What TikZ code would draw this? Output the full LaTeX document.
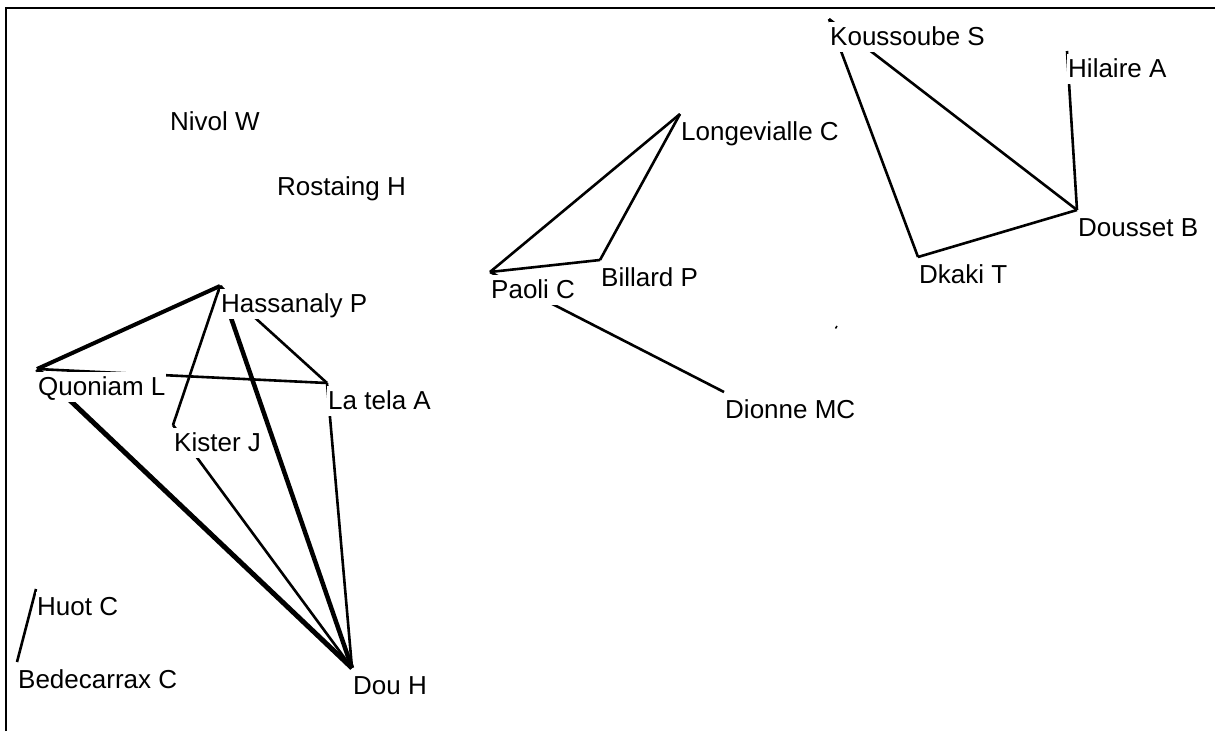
\documentclass[tikz,border=0pt]{standalone}
\usepackage{fontspec}
\setmainfont{Liberation Sans}
\begin{document}
\begin{tikzpicture}[x=1pt,y=-1pt,
  lbl/.style={anchor=north west, fill=white, inner xsep=1pt, inner ysep=0pt,
              text height=23.5pt, text depth=6pt, yshift=-3pt,
              font=\fontsize{26}{31}\selectfont},
  tie/.style={line width=2.6pt},
  strong/.style={line width=4.5pt},
  frame/.style={line width=2.6pt}]
\useasboundingbox (0,0) rectangle (1215,731);

% partial frame: left and top edges
\draw[frame] (6,731) -- (6,8) -- (1215,8);

% author positions (top-left corner of each name)
\coordinate (hass)    at (220,286);
\coordinate (quon)    at (37,369);
\coordinate (latela)  at (327,383);
\coordinate (kister)  at (173,425);
\coordinate (dou)     at (352,668);
\coordinate (huot)    at (36,589);
\coordinate (bede)    at (17,662);
\coordinate (nivol)   at (169,104);
\coordinate (rost)    at (276,169);
\coordinate (longe)   at (680,114);
\coordinate (paoli)   at (490,272);
\coordinate (billard) at (600,260);
\coordinate (dionne)  at (724,392);
\coordinate (kouss)   at (829,19);
\coordinate (hilaire) at (1067,51);
\coordinate (dousset) at (1077,210);
\coordinate (dkaki)   at (918,257);

% co-authorship links
\draw[strong, line width=4pt] (hass) -- (quon);
\draw[tie]    (hass) -- (kister);
\draw[strong] (hass) -- (dou);
\draw[tie]    (hass) -- (latela);
\draw[tie]    (quon) -- (latela);
\draw[strong, line width=5pt] (quon) -- (dou);
\draw[tie]    (kister) -- (dou);
\draw[tie]    (latela) -- (dou);
\draw[tie]    (huot) -- (bede);
\draw[tie]    (longe) -- (paoli);
\draw[tie]    (longe) -- (billard);
\draw[tie]    (paoli) -- (billard);
\draw[tie]    (paoli) -- (dionne);
\draw[tie]    (kouss) -- (dkaki);
\draw[tie]    (kouss) -- (dousset);
\draw[tie]    (hilaire) -- (dousset);
\draw[tie]    (dkaki) -- (dousset);

% stray mark
\draw[line width=1.5pt] (835.5,328.5) -- (837,326);

% names
\node[lbl] (hass-l)    at (hass)    {Hassanaly P};
\node[lbl] (quon-l)    at (quon)    {Quoniam L};
\node[lbl] (latela-l)  at (latela)  {La tela A};
\node[lbl] (kister-l)  at (kister)  {Kister J};
\node[lbl] (dou-l)     at (dou)     {Dou H};
\node[lbl] (huot-l)    at (huot)    {Huot C};
\node[lbl] (bede-l)    at (bede)    {Bedecarrax C};
\node[lbl] (nivol-l)   at (nivol)   {Nivol W};
\node[lbl] (rost-l)    at (rost)    {Rostaing H};
\node[lbl] (longe-l)   at (longe)   {Longevialle C};
\node[lbl] (paoli-l)   at (paoli)   {Paoli C};
\node[lbl] (billard-l) at (billard) {Billard P};
\node[lbl] (dionne-l)  at (dionne)  {Dionne MC};
\node[lbl] (kouss-l)   at (kouss)   {Koussoube S};
\node[lbl] (hilaire-l) at (hilaire) {Hilaire A};
\node[lbl] (dousset-l) at (dousset) {Dousset B};
\node[lbl] (dkaki-l)   at (dkaki)   {Dkaki T};
\end{tikzpicture}
\end{document}
